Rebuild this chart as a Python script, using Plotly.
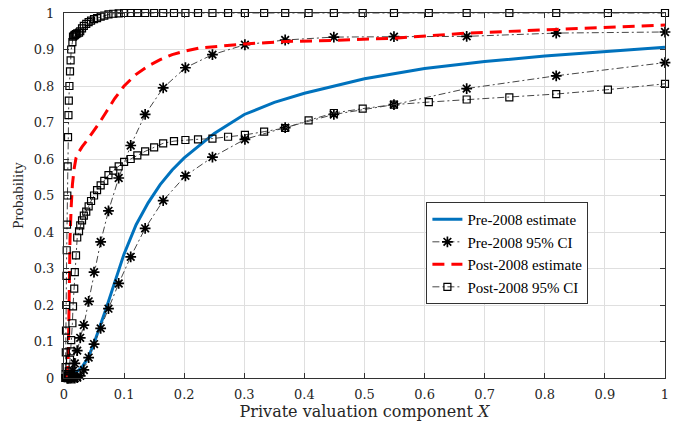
import plotly.graph_objects as go

# ---------------- data ----------------
pre_est_x = [0.012, 0.02, 0.03, 0.04, 0.05, 0.06, 0.07, 0.08, 0.09, 0.10, 0.12, 0.14, 0.16,
             0.18, 0.20, 0.25, 0.30, 0.35, 0.40, 0.45, 0.50, 0.60, 0.70, 0.80, 0.90, 1.0]
pre_est_y = [0.01, 0.015, 0.03, 0.055, 0.095, 0.14, 0.19, 0.24, 0.29, 0.34, 0.42, 0.48, 0.53,
             0.57, 0.603, 0.67, 0.722, 0.755, 0.780, 0.801, 0.82, 0.848, 0.867, 0.882, 0.895, 0.906]

pre_ci_x = [0.0055, 0.007, 0.008, 0.010, 0.012, 0.015, 0.018, 0.022, 0.027, 0.033, 0.041,
            0.050, 0.061, 0.074, 0.091, 0.111, 0.135, 0.165, 0.202, 0.247, 0.301, 0.368,
            0.449, 0.549, 0.670, 0.819, 1.0]
pre_ci_upper = [0.0, 0.001, 0.003, 0.005, 0.01, 0.02, 0.04, 0.075, 0.11, 0.145, 0.21,
                0.29, 0.373, 0.458, 0.548, 0.637, 0.722, 0.795, 0.85, 0.886, 0.913, 0.926,
                0.934, 0.935, 0.936, 0.945, 0.948]
pre_ci_lower = [0.0, 0.0, 0.0, 0.0, 0.0, 0.0, 0.0, 0.001, 0.006, 0.022, 0.056,
                0.093, 0.136, 0.19, 0.259, 0.332, 0.41, 0.486, 0.554, 0.605, 0.654, 0.686,
                0.722, 0.749, 0.793, 0.828, 0.864]

post_est_x = [0.005, 0.007, 0.008, 0.009, 0.010, 0.012, 0.014, 0.017, 0.020, 0.025, 0.03,
              0.04, 0.05, 0.06, 0.07, 0.084, 0.10, 0.12, 0.14, 0.16, 0.18, 0.20, 0.225,
              0.25, 0.30, 0.37, 0.45, 0.55, 0.67, 0.82, 1.0]
post_est_y = [0.0, 0.05, 0.15, 0.27, 0.38, 0.47, 0.53, 0.575, 0.603, 0.62, 0.633,
              0.655, 0.678, 0.702, 0.728, 0.765, 0.80, 0.832, 0.855, 0.872, 0.886, 0.895, 0.904,
              0.908, 0.915, 0.922, 0.925, 0.931, 0.945, 0.955, 0.967]

post_ci_x = [0.0025, 0.0027, 0.0030, 0.0033, 0.0037, 0.0041, 0.0045, 0.0050, 0.0055, 0.0061,
             0.0067, 0.0074, 0.008, 0.009, 0.010, 0.011, 0.012, 0.014, 0.015, 0.017, 0.018,
             0.020, 0.022, 0.025, 0.027, 0.030, 0.033, 0.037, 0.041, 0.045, 0.050, 0.055,
             0.061, 0.067, 0.074, 0.082, 0.091, 0.100, 0.111, 0.122, 0.135, 0.150, 0.165,
             0.183, 0.202, 0.223, 0.247, 0.273, 0.301, 0.333, 0.368, 0.407, 0.449, 0.497,
             0.549, 0.607, 0.670, 0.741, 0.819, 0.905, 1.0]
post_ci_upper = [0.01, 0.03, 0.07, 0.13, 0.20, 0.28, 0.35, 0.42, 0.50, 0.58,
                 0.66, 0.72, 0.76, 0.80, 0.84, 0.87, 0.90, 0.92, 0.935, 0.938, 0.94,
                 0.942, 0.944, 0.946, 0.95, 0.958, 0.965, 0.97, 0.975, 0.979, 0.983, 0.986,
                 0.99, 0.993, 0.996, 0.998, 0.999, 1.0, 1.0, 1.0, 1.0, 1.0, 1.0,
                 1.0, 1.0, 1.0, 1.0, 1.0, 1.0, 1.0, 1.0, 1.0, 1.0, 1.0,
                 1.0, 1.0, 1.0, 1.0, 1.0, 1.0, 1.0]
post_ci_lower = [0.0, 0.0, 0.0, 0.0, 0.0, 0.0, 0.0, 0.0, 0.001, 0.002,
                 0.005, 0.01, 0.018, 0.03, 0.05, 0.073, 0.104, 0.15, 0.196, 0.245, 0.29,
                 0.336, 0.385, 0.402, 0.418, 0.432, 0.445, 0.456, 0.47, 0.485, 0.50, 0.515,
                 0.528, 0.54, 0.556, 0.568, 0.58, 0.592, 0.60, 0.61, 0.621, 0.632, 0.643,
                 0.649, 0.652, 0.654, 0.656, 0.661, 0.666, 0.675, 0.685, 0.706, 0.726, 0.738,
                 0.749, 0.756, 0.763, 0.769, 0.778, 0.79, 0.806]

x_ticks = [0, 0.1, 0.2, 0.3, 0.4, 0.5, 0.6, 0.7, 0.8, 0.9, 1]
y_ticks = [0, 0.1, 0.2, 0.3, 0.4, 0.5, 0.6, 0.7, 0.8, 0.9, 1]
tick_text = ["0", "0.1", "0.2", "0.3", "0.4", "0.5", "0.6", "0.7", "0.8", "0.9", "1"]

# ---------------- figure ----------------
BLUE = "rgb(0,114,189)"
RED = "rgb(255,0,0)"
CI_LINE = "rgb(70,70,70)"
CI_DASH = "7px,3px,2px,3px"

fig = go.Figure()

fig.add_trace(go.Scatter(
    x=pre_est_x, y=pre_est_y, mode="lines", name="Pre-2008 estimate",
    line=dict(color=BLUE, width=3), cliponaxis=False))

star = dict(symbol="asterisk-open", size=9, color="black", line=dict(color="black", width=1.7))
fig.add_trace(go.Scatter(
    x=pre_ci_x, y=pre_ci_upper, mode="lines+markers", name="Pre-2008 95% CI",
    legendgroup="pre_ci", line=dict(color=CI_LINE, width=1, dash=CI_DASH),
    marker=star, cliponaxis=False))
fig.add_trace(go.Scatter(
    x=pre_ci_x, y=pre_ci_lower, mode="lines+markers", name="Pre-2008 95% CI",
    legendgroup="pre_ci", showlegend=False, line=dict(color=CI_LINE, width=1, dash=CI_DASH),
    marker=star, cliponaxis=False))

fig.add_trace(go.Scatter(
    x=post_est_x, y=post_est_y, mode="lines", name="Post-2008 estimate",
    line=dict(color=RED, width=3, dash="12px,7px"), cliponaxis=False))

square = dict(symbol="square-open", size=7, color="black", line=dict(color="black", width=1.2))
fig.add_trace(go.Scatter(
    x=post_ci_x, y=post_ci_upper, mode="lines+markers", name="Post-2008 95% CI",
    legendgroup="post_ci", line=dict(color=CI_LINE, width=1, dash=CI_DASH),
    marker=square, cliponaxis=False))
fig.add_trace(go.Scatter(
    x=post_ci_x, y=post_ci_lower, mode="lines+markers", name="Post-2008 95% CI",
    legendgroup="post_ci", showlegend=False, line=dict(color=CI_LINE, width=1, dash=CI_DASH),
    marker=square, cliponaxis=False))

axis_common = dict(
    range=[0, 1], showgrid=True, gridcolor="rgb(223,223,223)", gridwidth=1,
    zeroline=False, showline=True, linecolor="rgb(50,50,50)", linewidth=1,
    mirror="ticks", ticks="inside", ticklen=5, tickcolor="rgb(50,50,50)",
    tickvals=x_ticks, ticktext=tick_text,
    tickfont=dict(family="DejaVu Serif", size=13, color="rgb(38,38,38)"),
)

fig.update_layout(
    width=674, height=422,
    margin=dict(l=64, r=5, t=13, b=42),
    paper_bgcolor="white", plot_bgcolor="white",
    showlegend=True,
    legend=dict(
        x=0.603, y=0.482, xanchor="left", yanchor="top",
        bgcolor="white", bordercolor="rgb(50,50,50)", borderwidth=1,
        font=dict(family="Liberation Serif", size=15, color="black"),
        tracegroupgap=0,
    ),
    xaxis=dict(**axis_common, ticklabelstandoff=4,
               title=dict(text="Private valuation component <i>X</i>", standoff=4,
                          font=dict(family="DejaVu Serif", size=16, color="rgb(38,38,38)"))),
    yaxis=dict(**{**axis_common, "tickvals": y_ticks}, ticklabelstandoff=6,
               title=dict(text="Probability", standoff=6,
                          font=dict(family="Liberation Serif", size=15, color="rgb(38,38,38)"))),
)

fig.write_html("out.html", config={"displayModeBar": False},
               post_script="document.body.style.margin='0';")
